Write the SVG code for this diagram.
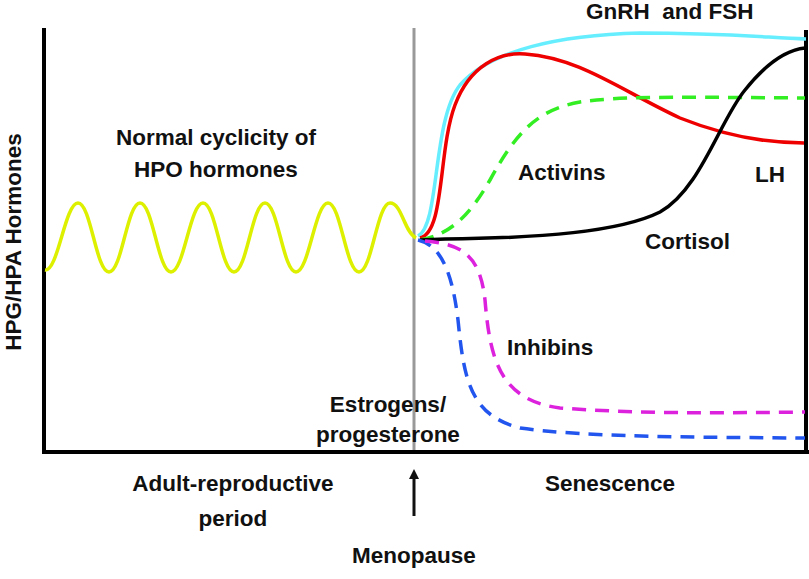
<svg xmlns="http://www.w3.org/2000/svg" width="809" height="579" viewBox="0 0 809 579">
<style>
text{font-family:"Liberation Sans",Arial,sans-serif;font-weight:bold;font-size:22.5px;fill:#111;white-space:pre}
.c{fill:none;stroke-width:3.5}
.d{stroke-dasharray:14 9}
</style>
<defs><marker id="ah" markerWidth="10" markerHeight="10" refX="5" refY="5" orient="auto" markerUnits="userSpaceOnUse"><path d="M0,0 L10,5 L0,10 z" fill="#111"/></marker></defs>
<rect width="809" height="579" fill="#fff"/>
<g id="axes">
<line x1="414" y1="28" x2="414" y2="452" stroke="#999" stroke-width="3"/>
<path d="M44,28 V452 H809" fill="none" stroke="#000" stroke-width="4"/>
<line x1="806" y1="30" x2="806" y2="452" stroke="#000" stroke-width="4"/>
</g>
<g id="connectors">
<path class="c" stroke="#ddf000" d="M45,270 C58,272 65,203 78,203 C91,203 96,272 109,272 C122,272 127,203 140,203 C153,203 158,272 171,272 C184,272 190,203 203,203 C216,203 221,272 234,272 C247,272 252,203 265,203 C278,203 283,272 296,272 C309,272 315,203 328,203 C341,203 346,272 359,272 C372,272 377,203 390,203 C402,203 404,232 416,238"/>
<path class="c" stroke="#66eeff" d="M418,236 C440,225 432,120 460,85 C490,50 560,35 640,33 C720,33 760,37 806,39"/>
<path class="c" stroke="#ee0000" d="M420,238 C445,232 438,150 455,105 C470,65 500,52 525,54 C580,58 620,90 680,118 C730,138 770,143 804,143"/>
<path class="c d" stroke="#33ee22" d="M420,240 C450,235 470,215 490,180 C515,135 535,110 580,102 C620,96 680,97 805,98"/>
<path class="c" stroke="#000" d="M420,240 L445,239 C540,238 620,232 660,212 C700,190 720,120 745,90 C765,65 785,50 805,48"/>
<path class="c d" stroke="#2255ee" d="M418,240 C440,245 452,270 458,320 C464,380 470,415 520,428 C580,436 650,437 805,438"/>
<path class="c d" stroke="#dd22dd" d="M425,241 C462,244 480,255 485,300 C490,360 500,400 560,408 C640,414 720,413 805,412"/>
<line x1="414" y1="516" x2="414" y2="474" stroke="#111" stroke-width="3" marker-end="url(#ah)"/>
</g>
<g id="labels">
<text x="586" y="19">GnRH  and FSH</text>
<text x="755" y="182">LH</text>
<text x="518" y="180">Activins</text>
<text x="645" y="249">Cortisol</text>
<text x="216" y="145" text-anchor="middle">Normal cyclicity of</text>
<text x="216" y="177" text-anchor="middle">HPO hormones</text>
<text x="507" y="355">Inhibins</text>
<text x="388" y="412" text-anchor="middle">Estrogens/</text>
<text x="388" y="442" text-anchor="middle">progesterone</text>
<text x="233" y="491" text-anchor="middle">Adult-reproductive</text>
<text x="233" y="526" text-anchor="middle">period</text>
<text x="610" y="491" text-anchor="middle">Senescence</text>
<text x="414" y="563" text-anchor="middle">Menopause</text>
<text transform="translate(21,242) rotate(-90)" text-anchor="middle" font-size="24">HPG/HPA Hormones</text>
</g>
</svg>
